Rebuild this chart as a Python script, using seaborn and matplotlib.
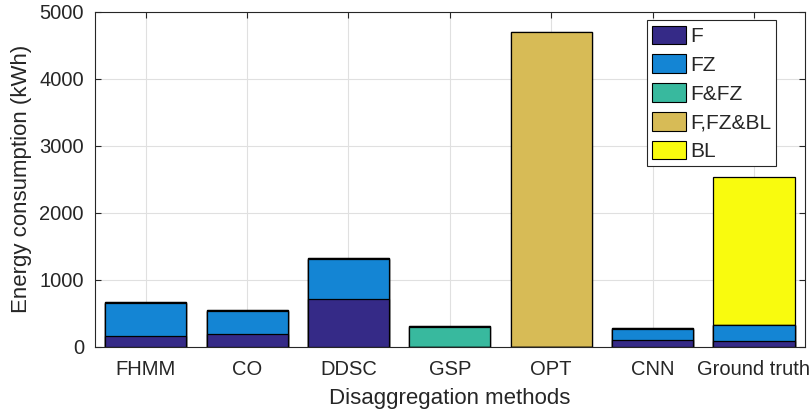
import matplotlib
matplotlib.use("Agg")
import matplotlib.pyplot as plt
import matplotlib.patches as mpatches
import numpy as np
import pandas as pd
import seaborn as sns

sns.set_style("whitegrid")
plt.rcParams["font.family"] = ["Liberation Sans", "DejaVu Sans"]

methods = ["FHMM", "CO", "DDSC", "GSP", "OPT", "CNN", "Ground truth"]
layers = ["F", "FZ", "F&FZ", "F,FZ&BL", "BL"]

f_vals = [160, 180, 714, 0, 0, 100, 90]
fz_vals = [495, 352, 595, 0, 0, 168, 235]
ffz_vals = [0, 0, 0, 296, 0, 0, 0]
ffzbl_vals = [8, 8, 8, 8, 4690, 8, 0]
bl_vals = [0, 0, 0, 0, 0, 0, 2205]

colors = ["#352a87", "#1485d4", "#38b99e", "#d7bb56", "#f9fb0e"]

data = pd.DataFrame(
    {"method": methods, "F": f_vals, "FZ": fz_vals, "F&FZ": ffz_vals,
     "F,FZ&BL": ffzbl_vals, "BL": bl_vals}
)
cum = data[layers].cumsum(axis=1)

fig, ax = plt.subplots(figsize=(8.12, 4.16), dpi=100)
fig.subplots_adjust(left=0.117, right=0.991, top=0.972, bottom=0.167)

# draw cumulative totals from the top layer down so lower layers sit in front
for layer, color in reversed(list(zip(layers, colors))):
    sns.barplot(
        x=data["method"], y=cum[layer], color=color, saturation=1,
        edgecolor="black", linewidth=0.9, width=0.8, ax=ax,
    )

ax.set_ylim(0, 5000)
ax.set_xlim(-0.5, 6.5)
ax.set_yticks(np.arange(0, 5001, 1000))
ax.set_xlabel("Disaggregation methods", fontsize=16, color="#262626", labelpad=7)
ax.set_ylabel("Energy consumption (kWh)", fontsize=16, color="#262626", labelpad=5)
ax.tick_params(axis="both", labelsize=14.5, colors="#262626", direction="in",
               length=4, width=0.8, pad=8, top=True, right=True, bottom=True, left=True)
ax.tick_params(axis="x", pad=9.5)
ax.grid(True, which="both", axis="both", color="#e0e0e0", linewidth=0.8)
ax.set_axisbelow(True)
for sp in ax.spines.values():
    sp.set_color("#262626")
    sp.set_linewidth(0.8)

handles = [mpatches.Patch(facecolor=c, edgecolor="black", linewidth=0.8, label=l)
           for l, c in zip(layers, colors)]
leg = ax.legend(handles=handles, loc="upper right", bbox_to_anchor=(0.96, 0.974),
                borderaxespad=0, fontsize=15, frameon=True, fancybox=False,
                framealpha=1, edgecolor="#262626", handlelength=1.6,
                handleheight=1.0, handletextpad=0.2, labelspacing=0.4,
                borderpad=0.25)
leg.get_frame().set_linewidth(0.8)

fig.savefig("out.png", dpi=100)
